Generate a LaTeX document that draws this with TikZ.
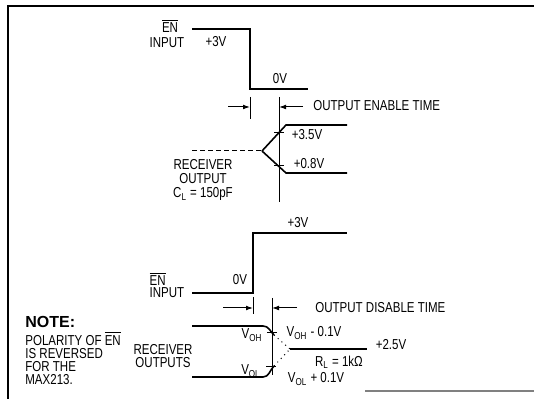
\documentclass[tikz,border=0pt]{standalone}
\usepackage{fontspec}
\setmainfont[FakeStretch=0.8]{Liberation Sans}
\newfontfamily\notefont{Liberation Sans}
\usepackage{tikz}
\usetikzlibrary{arrows.meta, positioning}

\newcommand{\ENbar}{$\overline{\mbox{EN}}$}
\newcommand{\lowsub}[1]{\textsubscript{#1}}

\tikzset{
  wave/.style={line width=0.8pt, color=black},
  frameline/.style={line width=1.1pt, color=black},
  tickmark/.style={line width=0.5pt, color=black},
  dotline/.style={line width=0.5pt, dotted, color=black},
  dashline/.style={line width=0.5pt, dash pattern=on 2.5pt off 1.5pt, color=black},
  timearrow/.style={-{Latex[length=3.5pt,width=2.4pt]}, line width=0.5pt},
  lbl/.style={font=\fontsize{7.2}{7.2}\selectfont, inner sep=0pt, align=center},
  notelbl/.style={font=\fontsize{7.2}{6.5}\selectfont, inner sep=0pt, align=left}
}

\begin{document}
\begin{tikzpicture}[x=0.5pt, y=-0.5pt]
  \useasboundingbox (0,0) rectangle (534,399);

  % Frame
  \coordinate (fbl) at (8,399);
  \coordinate (ftl) at (8,6);
  \coordinate (ftr) at (534,6);
  \coordinate (fbm) at (365,391);
  \coordinate (fbr) at (534,391);
  \draw[frameline] (fbl) -- (ftl) -- (ftr);
  \draw[line width=0.7pt, gray] (fbm) -- (fbr);

  % EN input, enable
  \coordinate (ena) at (192,29);
  \coordinate (enb) at (250,29);
  \coordinate (enc) at (250,89);
  \coordinate (end) at (308,89);
  \draw[wave] (ena) -- (enb) -- (enc) -- (end);
  \node[lbl] (inA) at (167,43) {INPUT};
  \node[lbl] (enA) at (170,26) {\ENbar};
  \node[lbl] (hiA) at (216,42) {+3V};
  \node[lbl] (loA) at (280,79) {0V};

  % Enable time
  \coordinate (tAl1) at (250,97);
  \coordinate (tAl2) at (250,119);
  \coordinate (tAr1) at (279,97);
  \coordinate (tAr2) at (279,202);
  \draw[tickmark] (tAl1) -- (tAl2);
  \draw[tickmark] (tAr1) -- (tAr2);
  \coordinate (aAl) at (228,107);
  \coordinate (aAr) at (303,107);
  \draw[timearrow] (aAl) -- (tAl1 |- aAl);
  \draw[timearrow] (aAr) -- (tAr1 |- aAr);
  \node[lbl, anchor=west] (enbtime) at (313,106) {OUTPUT ENABLE TIME};

  % Receiver output, enable
  \coordinate (rxa) at (192,151);
  \coordinate (rxb) at (262,151);
  \coordinate (rxh) at (286,125);
  \coordinate (rxhe) at (347,125);
  \coordinate (rxl) at (286,173);
  \coordinate (rxle) at (347,173);
  \draw[dashline] (rxa) -- (rxb);
  \draw[wave] (rxb) -- (rxh) -- (rxhe);
  \draw[wave] (rxb) -- (rxl) -- (rxle);
  \draw[tickmark] (274,133) -- (284,133);
  \draw[tickmark] (274,166) -- (284,166);
  \node[lbl] (v35) at (307,135) {+3.5V};
  \node[lbl] (v08) at (309,164) {+0.8V};
  \node[lbl] (rxlbl) at (203,180) {RECEIVER\\OUTPUT\\C\lowsub{L} = 150pF};

  % EN input, disable
  \coordinate (dna) at (192,293);
  \coordinate (dnb) at (253,293);
  \coordinate (dnc) at (253,233);
  \coordinate (dnd) at (347,233);
  \draw[wave] (dna) -- (dnb) -- (dnc) -- (dnd);
  \node[lbl] (inB) at (167,293) {INPUT};
  \node[lbl, anchor=west] (enB) at (inB.west |- 0,279) {\ENbar};
  \node[lbl] (hiB) at (298,223) {+3V};
  \node[lbl] (loB) at (240,280) {0V};

  % Disable time
  \coordinate (tBl1) at (253,297);
  \coordinate (tBl2) at (253,314);
  \coordinate (tBr1) at (272,298);
  \coordinate (tBr2) at (272,375);
  \draw[tickmark] (tBl1) -- (tBl2);
  \draw[tickmark] (tBr1) -- (tBr2);
  \coordinate (aBl) at (223,308);
  \coordinate (aBr) at (297,308);
  \draw[timearrow] (aBl) -- (tBl1 |- aBl);
  \draw[timearrow] (aBr) -- (tBr1 |- aBr);
  \node[lbl, anchor=west] (distime) at (315,308) {OUTPUT DISABLE TIME};

  % Receiver outputs, disable
  \coordinate (ohs) at (192,326);
  \coordinate (ohb) at (263,326);
  \coordinate (oht) at (274,335);
  \coordinate (ols) at (192,377);
  \coordinate (olb) at (263,377);
  \coordinate (olt) at (274,366);
  \coordinate (mid) at (290,349);
  \coordinate (mide) at (367,349);
  \draw[wave] (ohs) -- (ohb) to[out=0, in=135] (oht);
  \draw[wave] (ols) -- (olb) to[out=0, in=-135] (olt);
  \draw[dotline] (oht) -- (mid);
  \draw[dotline] (olt) -- (mid);
  \draw[wave] (mid) -- (mide);
  \draw[tickmark] (267,333) -- (277,333);
  \draw[tickmark] (266,367) -- (276,367);
  \node[lbl] (voh) at (252,335) {V\lowsub{OH}};
  \node[lbl] (vol) at (251,371) {V\lowsub{OL}};
  \node[lbl] (vohm) at (314,333) {V\lowsub{OH} - 0.1V};
  \node[lbl] (v25) at (391,345) {+2.5V};
  \node[lbl] (rl) at (339,362) {R\lowsub{L} = 1kΩ};
  \node[lbl] (volp) at (316,379) {V\lowsub{OL} + 0.1V};
  \node[lbl, font=\fontsize{7.2}{6.5}\selectfont] (rxlblB) at (163,356) {RECEIVER\\OUTPUTS};

  % Note
  \node[notelbl, anchor=west] (notehd) at (25,322) {\notefont\bfseries\fontsize{8}{8}\selectfont NOTE:};
  \node[notelbl, anchor=north west] (notetx) at (25,331)
    {POLARITY OF \ENbar\\IS REVERSED\\FOR THE\\MAX213.};
\end{tikzpicture}
\end{document}
